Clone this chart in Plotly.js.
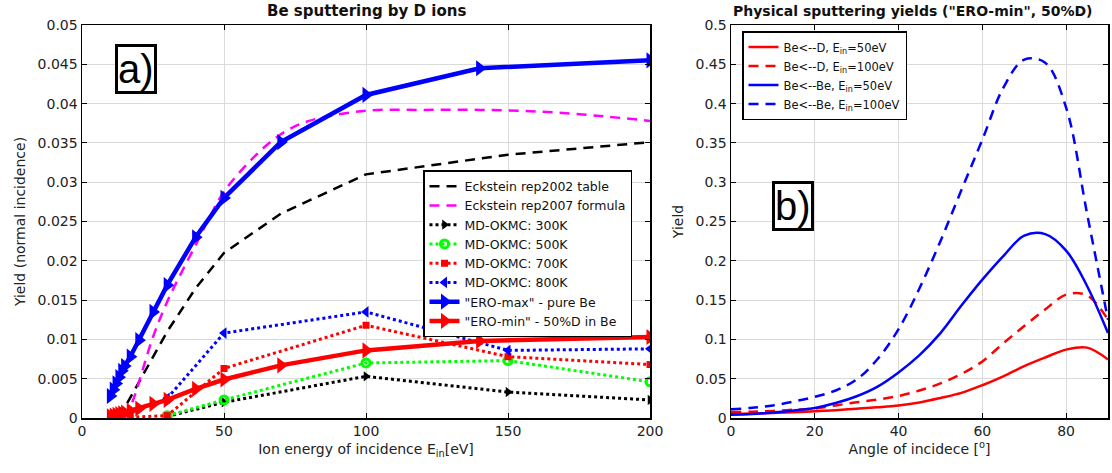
<!DOCTYPE html>
<html><head><meta charset="utf-8">
<script src="https://cdn.plot.ly/plotly-3.0.1.min.js"></script>
<style>body{margin:0;background:#fff}#chart{width:1112px;height:473px}</style>
</head><body><div id="chart"></div><script>
// ---- Panel a) Be sputtering by D ions ----
const eck2002E=[13,20,30,40,50,70,100,150,200];
const eck2002Y=[0,0.0045,0.011,0.0165,0.021,0.026,0.031,0.0335,0.0351];
const eck2007E=[15,18,20,25,30,35,40,45,50,60,70,80,100,120,140,160,180,200];
const eck2007Y=[0,0.0023,0.0045,0.0103,0.0148,0.0185,0.022,0.0256,0.0288,0.033,0.0361,0.0378,0.0391,0.0392,0.0392,0.039,0.0385,0.0378];
const mdE=[30,50,100,150,200];
const md300Y=[0.0002,0.002,0.0053,0.0033,0.0023];
const md500Y=[0.0003,0.0023,0.007,0.0073,0.0046];
const md700E=[17,30,50,100,150,200];
const md700Y=[0.0001,0.0003,0.0063,0.0118,0.0078,0.0068];
const md800Y=[0.0025,0.0108,0.0135,0.0086,0.0088];
const eroE=[10,11,12,13,14,15,17,20,25,30,40,50,70,100,140,200];
const eroMaxY=[0.0028,0.0036,0.0044,0.0052,0.006,0.0066,0.0078,0.0099,0.0135,0.0169,0.023,0.028,0.0351,0.0411,0.0445,0.0455];
const eroMinY=[0.0002,0.0003,0.0004,0.0005,0.0006,0.0007,0.0009,0.0012,0.0018,0.0023,0.0037,0.0049,0.0067,0.0086,0.0098,0.0103];

// ---- Panel b) Physical sputtering yields ----
const angle=[0,5,10,15,20,25,30,35,40,45,50,55,60,65,70,75,80,85,90];
const beD50=[0.0055,0.0058,0.0065,0.0073,0.0085,0.01,0.0118,0.0137,0.016,0.0198,0.0255,0.032,0.0417,0.053,0.066,0.077,0.087,0.0895,0.0745];
const beD100=[0.0075,0.008,0.009,0.0105,0.012,0.016,0.02,0.0235,0.028,0.035,0.044,0.056,0.072,0.095,0.117,0.138,0.157,0.156,0.125];
const beBe50=[0.004,0.005,0.007,0.0095,0.0128,0.019,0.0277,0.04,0.058,0.08,0.108,0.143,0.176,0.206,0.232,0.234,0.213,0.168,0.108];
const beBe100=[0.011,0.013,0.016,0.021,0.027,0.035,0.049,0.075,0.113,0.165,0.225,0.29,0.354,0.42,0.456,0.452,0.395,0.26,0.125];

const FONT='DejaVu Sans, Liberation Sans, Arial, sans-serif';
const BOXFONT='Liberation Sans, Arial, Helvetica, sans-serif';
const traces=[
 {x:eck2002E,y:eck2002Y,mode:'lines',name:'Eckstein rep2002 table',line:{color:'black',width:2.5,dash:'10px,7px'},xaxis:'x',yaxis:'y'},
 {x:eck2007E,y:eck2007Y,mode:'lines',name:'Eckstein rep2007 formula',line:{color:'#ff00ff',width:2.5,dash:'10px,7px',shape:'spline'},xaxis:'x',yaxis:'y'},
 {x:mdE,y:md300Y,mode:'lines+markers',name:'MD-OKMC: 300K',line:{color:'black',width:3,dash:'dot'},marker:{symbol:'triangle-right',size:9,color:'black'},xaxis:'x',yaxis:'y'},
 {x:mdE,y:md500Y,mode:'lines+markers',name:'MD-OKMC: 500K',line:{color:'#00ff00',width:3,dash:'dot'},marker:{symbol:'circle-open',size:8,color:'#00ff00',line:{width:3}},xaxis:'x',yaxis:'y'},
 {x:md700E,y:md700Y,mode:'lines+markers',name:'MD-OKMC: 700K',line:{color:'red',width:3,dash:'dot'},marker:{symbol:'square',size:7,color:'red'},xaxis:'x',yaxis:'y'},
 {x:mdE,y:md800Y,mode:'lines+markers',name:'MD-OKMC: 800K',line:{color:'blue',width:3,dash:'dot'},marker:{symbol:'triangle-left',size:10,color:'blue'},xaxis:'x',yaxis:'y'},
 {x:eroE,y:eroMaxY,mode:'lines+markers',name:'"ERO-max" - pure Be',line:{color:'blue',width:4.5},marker:{symbol:'triangle-right',size:14,color:'blue'},xaxis:'x',yaxis:'y'},
 {x:eroE,y:eroMinY,mode:'lines+markers',name:'"ERO-min" - 50%D in Be',line:{color:'red',width:4.5},marker:{symbol:'triangle-right',size:14,color:'red'},xaxis:'x',yaxis:'y'},
 {x:angle,y:beD50,mode:'lines',name:'Be<--D, E<sub>in</sub>=50eV',line:{color:'red',width:2.5,shape:'spline'},xaxis:'x2',yaxis:'y2',legend:'legend2'},
 {x:angle,y:beD100,mode:'lines',name:'Be<--D, E<sub>in</sub>=100eV',line:{color:'red',width:2.5,dash:'10px,7px',shape:'spline'},xaxis:'x2',yaxis:'y2',legend:'legend2'},
 {x:angle,y:beBe50,mode:'lines',name:'Be<--Be, E<sub>in</sub>=50eV',line:{color:'blue',width:2.5,shape:'spline'},xaxis:'x2',yaxis:'y2',legend:'legend2'},
 {x:angle,y:beBe100,mode:'lines',name:'Be<--Be, E<sub>in</sub>=100eV',line:{color:'blue',width:2.5,dash:'10px,7px',shape:'spline'},xaxis:'x2',yaxis:'y2',legend:'legend2'}
];

const axBase={showline:true,linecolor:'black',linewidth:1.5,mirror:'ticks',ticks:'inside',ticklen:5,tickcolor:'black',
  showgrid:true,gridcolor:'#dadada',gridwidth:1,zeroline:false,tickfont:{family:FONT,size:14,color:'#222'}};
const dTop=1-25/473, dBot=1-418/473;
const layout={
 width:1112,height:473,margin:{l:0,r:0,t:0,b:0},paper_bgcolor:'white',plot_bgcolor:'white',
 font:{family:FONT,color:'#222'},
 xaxis:Object.assign({},axBase,{domain:[82/1112,650/1112],range:[0,200],dtick:50,anchor:'y',
   title:{text:'Ion energy of incidence E<sub>in</sub>[eV]',font:{family:FONT,size:14,color:'#222'},standoff:6}}),
 yaxis:Object.assign({},axBase,{domain:[dBot,dTop],range:[0,0.05],dtick:0.005,anchor:'x',
   title:{text:'Yield (normal incidence)',font:{family:FONT,size:14,color:'#222'},standoff:8}}),
 xaxis2:Object.assign({},axBase,{domain:[731/1112,1108/1112],range:[0,90],dtick:20,anchor:'y2',
   title:{text:'Angle of incidece [<sup>o</sup>]',font:{family:FONT,size:14,color:'#222'},standoff:6}}),
 yaxis2:Object.assign({},axBase,{domain:[dBot,dTop],range:[0,0.5],dtick:0.05,anchor:'x2',
   title:{text:'Yield',font:{family:FONT,size:14,color:'#222'},standoff:8}}),
 legend:{x:423/1112,y:1-170/473,xanchor:'left',yanchor:'top',bgcolor:'white',bordercolor:'black',borderwidth:1.5,
   font:{family:FONT,size:12.5,color:'#111'},tracegroupgap:0,itemwidth:30},
 legend2:{x:742/1112,y:1-31/473,xanchor:'left',yanchor:'top',bgcolor:'white',bordercolor:'black',borderwidth:1.5,
   font:{family:FONT,size:11.5,color:'#111'},tracegroupgap:0,itemwidth:30},
 annotations:[
  {text:'<b>Be sputtering by D ions</b>',xref:'paper',yref:'paper',x:366/1112,y:1-11/473,xanchor:'center',yanchor:'middle',showarrow:false,font:{family:FONT,size:15,color:'#111'}},
  {text:'<b>Physical sputtering yields ("ERO-min", 50%D)</b>',xref:'paper',yref:'paper',x:913/1112,y:1-11/473,xanchor:'center',yanchor:'middle',showarrow:false,font:{family:FONT,size:14,color:'#111'}},
  {text:'a)',xref:'paper',yref:'paper',x:136/1112,y:1-69/473,xanchor:'center',yanchor:'middle',showarrow:false,font:{family:BOXFONT,size:40,color:'black'},bordercolor:'black',borderwidth:3,borderpad:0,bgcolor:'white'},
  {text:'b)',xref:'paper',yref:'paper',x:793/1112,y:1-206/473,xanchor:'center',yanchor:'middle',showarrow:false,font:{family:BOXFONT,size:40,color:'black'},bordercolor:'black',borderwidth:3,borderpad:0,bgcolor:'white'}
 ]
};
Plotly.newPlot('chart',traces,layout,{staticPlot:true,displayModeBar:false});
</script></body></html>
